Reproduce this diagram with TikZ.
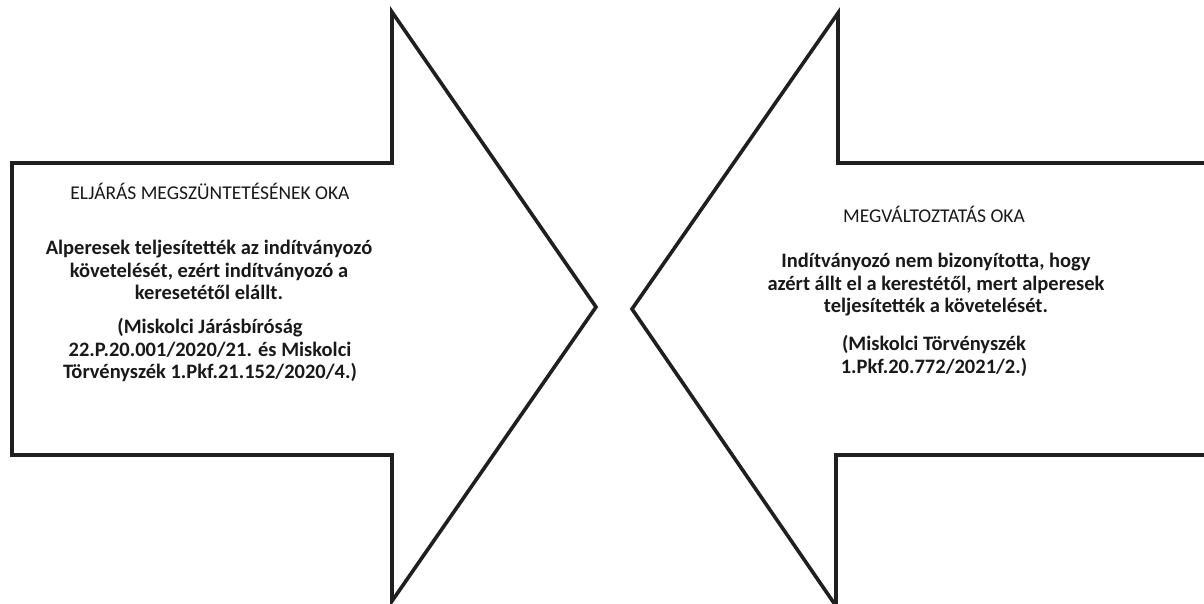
\documentclass[tikz,border=0pt]{standalone}
\usepackage{fontspec}
\setmainfont{Carlito}
\begin{document}
\begin{tikzpicture}[x=1pt,y=-1pt,
  arrowshape/.style={draw=black!88, line width=3.6pt, line join=miter},
  ttl/.style={font=\fontsize{19.5}{23}\selectfont, text=black!90, align=center, inner sep=0pt},
  txt/.style={font=\fontsize{20.5}{22.5}\selectfont\bfseries, text=black!90, align=center, inner sep=0pt}]
\useasboundingbox (0,0) rectangle (1204,603);
\begin{scope}
\clip (0,0) rectangle (1204,603);
\draw[arrowshape] (12,163) -- (392,163) -- (392,12) -- (596,307) -- (392,601) -- (392,455) -- (12,455) -- cycle;
\draw[arrowshape] (1215,163) -- (838,163) -- (838,13) -- (632,309) -- (836,606) -- (836,455) -- (1215,455);
\end{scope}
\node[ttl] (lt) at (210,191) {ELJÁRÁS MEGSZÜNTETÉSÉNEK OKA};
\node[txt] (lm) at (209,270) {Alperesek teljesítették az indítványozó\\követelését, ezért indítványozó a\\keresetétől elállt.};
\node[txt] (lr) at (210,350) {(Miskolci Járásbíróság\\22.P.20.001/2020/21. és Miskolci\\Törvényszék 1.Pkf.21.152/2020/4.)};
\node[ttl] (rt) at (934,214) {MEGVÁLTOZTATÁS OKA};
\node[txt] (rm) at (936,285) {Indítványozó nem bizonyította, hogy\\azért állt el a kerestétől, mert alperesek\\teljesítették a követelését.};
\node[txt] (rr) at (934,356) {(Miskolci Törvényszék\\1.Pkf.20.772/2021/2.)};
\end{tikzpicture}
\end{document}
